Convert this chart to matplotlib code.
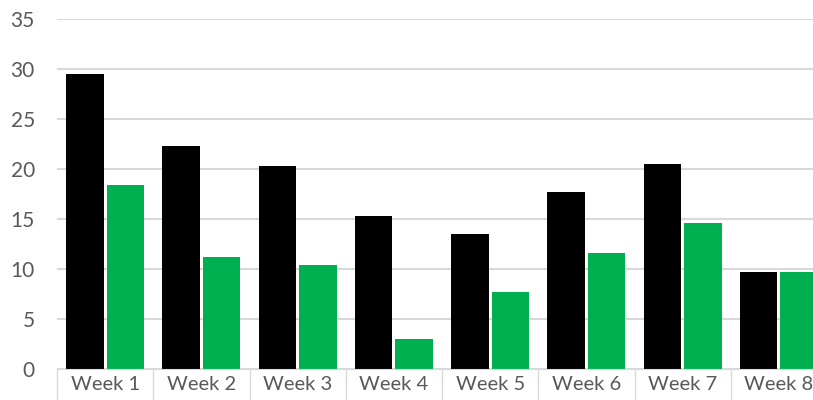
import numpy as np
import matplotlib.pyplot as plt

weeks = ['Week 1', 'Week 2', 'Week 3', 'Week 4', 'Week 5', 'Week 6', 'Week 7', 'Week 8']
series_black = [29.5, 22.3, 20.3, 15.3, 13.5, 17.7, 20.5, 9.7]
series_green = [18.4, 11.2, 10.4, 3.0, 7.7, 11.6, 14.6, 9.7]

plt.rcParams['font.family'] = ['Lato', 'DejaVu Sans']

fig = plt.figure(figsize=(8.13, 4.0), dpi=100)
# axes runs past the right edge, the reference is cropped there
ax = fig.add_axes([57 / 813, 31 / 400, 770 / 813, 350 / 400])

x = np.arange(len(weeks))
w = 0.39
ax.bar(x - 0.21, series_black, w, color='black', zorder=3)
ax.bar(x + 0.21, series_green, w, color='#00b050', zorder=3)

ax.set_xlim(-0.5, len(weeks) - 0.5)
ax.set_ylim(0, 35)
ax.set_yticks(np.arange(0, 36, 5))
ax.grid(axis='y', color='#d9d9d9', linewidth=1.5, zorder=0)

# category boxes: boundary ticks going down, labels at the centres
ax.set_xticks(np.arange(-0.5, len(weeks), 1.0))
ax.set_xticklabels([])
ax.set_xticks(x, minor=True)
ax.set_xticklabels(weeks, minor=True)
ax.tick_params(axis='x', which='major', direction='out', length=30, width=1, color='#d9d9d9')
ax.tick_params(axis='x', which='minor', length=0, pad=5, labelsize=14.5, labelcolor='#595959')
ax.tick_params(axis='y', length=0, pad=16, labelsize=15, labelcolor='#595959')

for s in ['top', 'right', 'left']:
    ax.spines[s].set_visible(False)
ax.spines['bottom'].set_color('#d9d9d9')
ax.spines['bottom'].set_zorder(4)

fig.savefig('out.png', dpi=100)
